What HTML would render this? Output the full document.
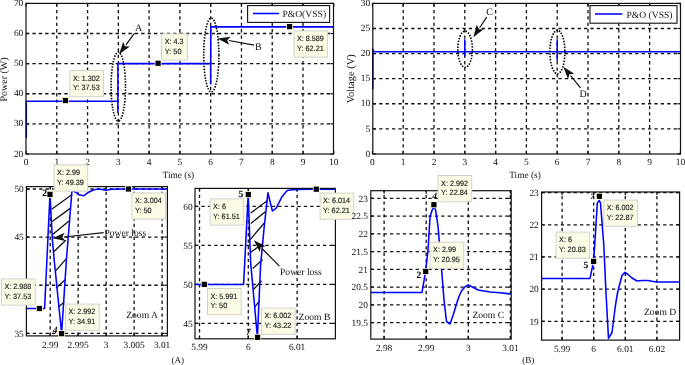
<!DOCTYPE html>
<html><head><meta charset="utf-8"><title>P&amp;O VSS</title>
<style>
html,body{margin:0;padding:0;background:#fff;width:685px;height:365px;overflow:hidden;}
svg{display:block;will-change:transform;text-rendering:geometricPrecision;}
</style></head>
<body>
<svg width="685" height="365" viewBox="0 0 685 365">
<rect width="685" height="365" fill="#fff"/>
<line x1="56.78" y1="154" x2="56.78" y2="3.4" stroke="#111" stroke-width="1.3" stroke-dasharray="3.3,3.1"/>
<line x1="87.56" y1="154" x2="87.56" y2="3.4" stroke="#111" stroke-width="1.3" stroke-dasharray="3.3,3.1"/>
<line x1="118.34" y1="154" x2="118.34" y2="3.4" stroke="#111" stroke-width="1.3" stroke-dasharray="3.3,3.1"/>
<line x1="149.12" y1="154" x2="149.12" y2="3.4" stroke="#111" stroke-width="1.3" stroke-dasharray="3.3,3.1"/>
<line x1="179.9" y1="154" x2="179.9" y2="3.4" stroke="#111" stroke-width="1.3" stroke-dasharray="3.3,3.1"/>
<line x1="210.68" y1="154" x2="210.68" y2="3.4" stroke="#111" stroke-width="1.3" stroke-dasharray="3.3,3.1"/>
<line x1="241.46" y1="154" x2="241.46" y2="3.4" stroke="#111" stroke-width="1.3" stroke-dasharray="3.3,3.1"/>
<line x1="272.24" y1="154" x2="272.24" y2="3.4" stroke="#111" stroke-width="1.3" stroke-dasharray="3.3,3.1"/>
<line x1="303.02" y1="154" x2="303.02" y2="3.4" stroke="#111" stroke-width="1.3" stroke-dasharray="3.3,3.1"/>
<line x1="26" y1="123.88" x2="333.5" y2="123.88" stroke="#111" stroke-width="1.3" stroke-dasharray="3.3,3.1"/>
<line x1="26" y1="93.76" x2="333.5" y2="93.76" stroke="#111" stroke-width="1.3" stroke-dasharray="3.3,3.1"/>
<line x1="26" y1="63.64" x2="333.5" y2="63.64" stroke="#111" stroke-width="1.3" stroke-dasharray="3.3,3.1"/>
<line x1="26" y1="33.52" x2="333.5" y2="33.52" stroke="#111" stroke-width="1.3" stroke-dasharray="3.3,3.1"/>
<line x1="26" y1="154" x2="26" y2="151" stroke="#111" stroke-width="1.2"/>
<line x1="26" y1="3.4" x2="26" y2="6.4" stroke="#111" stroke-width="1.2"/>
<line x1="56.78" y1="154" x2="56.78" y2="151" stroke="#111" stroke-width="1.2"/>
<line x1="56.78" y1="3.4" x2="56.78" y2="6.4" stroke="#111" stroke-width="1.2"/>
<line x1="87.56" y1="154" x2="87.56" y2="151" stroke="#111" stroke-width="1.2"/>
<line x1="87.56" y1="3.4" x2="87.56" y2="6.4" stroke="#111" stroke-width="1.2"/>
<line x1="118.34" y1="154" x2="118.34" y2="151" stroke="#111" stroke-width="1.2"/>
<line x1="118.34" y1="3.4" x2="118.34" y2="6.4" stroke="#111" stroke-width="1.2"/>
<line x1="149.12" y1="154" x2="149.12" y2="151" stroke="#111" stroke-width="1.2"/>
<line x1="149.12" y1="3.4" x2="149.12" y2="6.4" stroke="#111" stroke-width="1.2"/>
<line x1="179.9" y1="154" x2="179.9" y2="151" stroke="#111" stroke-width="1.2"/>
<line x1="179.9" y1="3.4" x2="179.9" y2="6.4" stroke="#111" stroke-width="1.2"/>
<line x1="210.68" y1="154" x2="210.68" y2="151" stroke="#111" stroke-width="1.2"/>
<line x1="210.68" y1="3.4" x2="210.68" y2="6.4" stroke="#111" stroke-width="1.2"/>
<line x1="241.46" y1="154" x2="241.46" y2="151" stroke="#111" stroke-width="1.2"/>
<line x1="241.46" y1="3.4" x2="241.46" y2="6.4" stroke="#111" stroke-width="1.2"/>
<line x1="272.24" y1="154" x2="272.24" y2="151" stroke="#111" stroke-width="1.2"/>
<line x1="272.24" y1="3.4" x2="272.24" y2="6.4" stroke="#111" stroke-width="1.2"/>
<line x1="303.02" y1="154" x2="303.02" y2="151" stroke="#111" stroke-width="1.2"/>
<line x1="303.02" y1="3.4" x2="303.02" y2="6.4" stroke="#111" stroke-width="1.2"/>
<line x1="333.8" y1="154" x2="333.8" y2="151" stroke="#111" stroke-width="1.2"/>
<line x1="333.8" y1="3.4" x2="333.8" y2="6.4" stroke="#111" stroke-width="1.2"/>
<line x1="26" y1="154" x2="29" y2="154" stroke="#111" stroke-width="1.2"/>
<line x1="333.5" y1="154" x2="330.5" y2="154" stroke="#111" stroke-width="1.2"/>
<line x1="26" y1="123.88" x2="29" y2="123.88" stroke="#111" stroke-width="1.2"/>
<line x1="333.5" y1="123.88" x2="330.5" y2="123.88" stroke="#111" stroke-width="1.2"/>
<line x1="26" y1="93.76" x2="29" y2="93.76" stroke="#111" stroke-width="1.2"/>
<line x1="333.5" y1="93.76" x2="330.5" y2="93.76" stroke="#111" stroke-width="1.2"/>
<line x1="26" y1="63.64" x2="29" y2="63.64" stroke="#111" stroke-width="1.2"/>
<line x1="333.5" y1="63.64" x2="330.5" y2="63.64" stroke="#111" stroke-width="1.2"/>
<line x1="26" y1="33.52" x2="29" y2="33.52" stroke="#111" stroke-width="1.2"/>
<line x1="333.5" y1="33.52" x2="330.5" y2="33.52" stroke="#111" stroke-width="1.2"/>
<line x1="26" y1="3.4" x2="29" y2="3.4" stroke="#111" stroke-width="1.2"/>
<line x1="333.5" y1="3.4" x2="330.5" y2="3.4" stroke="#111" stroke-width="1.2"/>
<polyline points="26.31,138.34 26.31,101.2 117.88,101.2 117.88,112.13 117.94,63.64 210.68,63.64 210.68,84.06 210.74,26.86 333.49,26.86" fill="none" stroke="#0000ff" stroke-width="1.55" stroke-linejoin="round" stroke-linecap="butt"/>
<rect x="26" y="3.4" width="307.5" height="150.6" fill="none" stroke="#111" stroke-width="1.2"/>
<text x="26" y="164.8" font-family="'Liberation Serif', serif" font-size="9.4" text-anchor="middle" fill="#111">0</text>
<text x="56.78" y="164.8" font-family="'Liberation Serif', serif" font-size="9.4" text-anchor="middle" fill="#111">1</text>
<text x="87.56" y="164.8" font-family="'Liberation Serif', serif" font-size="9.4" text-anchor="middle" fill="#111">2</text>
<text x="118.34" y="164.8" font-family="'Liberation Serif', serif" font-size="9.4" text-anchor="middle" fill="#111">3</text>
<text x="149.12" y="164.8" font-family="'Liberation Serif', serif" font-size="9.4" text-anchor="middle" fill="#111">4</text>
<text x="179.9" y="164.8" font-family="'Liberation Serif', serif" font-size="9.4" text-anchor="middle" fill="#111">5</text>
<text x="210.68" y="164.8" font-family="'Liberation Serif', serif" font-size="9.4" text-anchor="middle" fill="#111">6</text>
<text x="241.46" y="164.8" font-family="'Liberation Serif', serif" font-size="9.4" text-anchor="middle" fill="#111">7</text>
<text x="272.24" y="164.8" font-family="'Liberation Serif', serif" font-size="9.4" text-anchor="middle" fill="#111">8</text>
<text x="303.02" y="164.8" font-family="'Liberation Serif', serif" font-size="9.4" text-anchor="middle" fill="#111">9</text>
<text x="333.8" y="164.8" font-family="'Liberation Serif', serif" font-size="9.4" text-anchor="middle" fill="#111">10</text>
<text x="23.3" y="156.5" font-family="'Liberation Serif', serif" font-size="9.4" text-anchor="end" fill="#111">20</text>
<text x="23.3" y="126.38" font-family="'Liberation Serif', serif" font-size="9.4" text-anchor="end" fill="#111">30</text>
<text x="23.3" y="96.26" font-family="'Liberation Serif', serif" font-size="9.4" text-anchor="end" fill="#111">40</text>
<text x="23.3" y="66.14" font-family="'Liberation Serif', serif" font-size="9.4" text-anchor="end" fill="#111">50</text>
<text x="23.3" y="36.02" font-family="'Liberation Serif', serif" font-size="9.4" text-anchor="end" fill="#111">60</text>
<text x="23.3" y="5.9" font-family="'Liberation Serif', serif" font-size="9.4" text-anchor="end" fill="#111">70</text>
<text x="178.4" y="178.2" font-family="'Liberation Serif', serif" font-size="9.4" text-anchor="middle" fill="#111">Time (s)</text>
<text transform="translate(7.1,79.5) rotate(-90)" font-family="'Liberation Serif', serif" font-size="10" text-anchor="middle" fill="#111">Power (W)</text>
<rect x="247.6" y="5.6" width="82" height="16.8" fill="#fff" stroke="#111" stroke-width="1.1"/>
<line x1="253" y1="13.5" x2="279" y2="13.5" stroke="#0000ff" stroke-width="1.55"/>
<text x="282.4" y="17" font-family="'Liberation Serif', serif" font-size="9.6" text-anchor="start" fill="#111">P&amp;O(VSS)</text>
<ellipse cx="118.3" cy="86.6" rx="7.2" ry="34.5" fill="none" stroke="#000" stroke-width="1.6" stroke-dasharray="1.5,1.35"/>
<ellipse cx="211.3" cy="55" rx="7.6" ry="37" fill="none" stroke="#000" stroke-width="1.6" stroke-dasharray="1.5,1.35"/>
<line x1="134.4" y1="33.4" x2="125.91" y2="44.94" stroke="#111" stroke-width="1.2"/>
<polygon points="119.1,54.2 123.2,41.7 124.88,46.35 129.81,46.56" fill="#111"/>
<text x="138.5" y="31.3" font-family="'Liberation Serif', serif" font-size="10" text-anchor="middle" fill="#111">A</text>
<line x1="254" y1="45.2" x2="228.9" y2="40.51" stroke="#111" stroke-width="1.2"/>
<polygon points="217.6,38.4 230.64,36.67 227.18,40.19 229.13,44.73" fill="#111"/>
<text x="258.3" y="50.2" font-family="'Liberation Serif', serif" font-size="10" text-anchor="middle" fill="#111">B</text>
<rect x="62" y="97.1" width="6.8" height="6.8" fill="#fbf8d8"/>
<rect x="62.8" y="97.9" width="5.2" height="5.2" fill="#000"/>
<rect x="69.9" y="70.5" width="33.62" height="26.2" fill="#fcfce6" stroke="#d2d2cc" stroke-width="1"/>
<text x="72.9" y="80.7" font-family="'Liberation Sans', sans-serif" font-size="7.7" text-anchor="start" fill="#1a1a1a" textLength="26.82" lengthAdjust="spacingAndGlyphs" stroke="#1a1a1a" stroke-width="0.15">X: 1.302</text>
<text x="72.9" y="90.4" font-family="'Liberation Sans', sans-serif" font-size="7.7" text-anchor="start" fill="#1a1a1a" textLength="26.82" lengthAdjust="spacingAndGlyphs" stroke="#1a1a1a" stroke-width="0.15">Y: 37.53</text>
<rect x="154.7" y="59.9" width="6.8" height="6.8" fill="#fbf8d8"/>
<rect x="155.5" y="60.7" width="5.2" height="5.2" fill="#000"/>
<rect x="161.7" y="33.9" width="25.61" height="26.2" fill="#fcfce6" stroke="#d2d2cc" stroke-width="1"/>
<text x="164.7" y="44.1" font-family="'Liberation Sans', sans-serif" font-size="7.7" text-anchor="start" fill="#1a1a1a" textLength="18.81" lengthAdjust="spacingAndGlyphs" stroke="#1a1a1a" stroke-width="0.15">X: 4.3</text>
<text x="164.7" y="53.8" font-family="'Liberation Sans', sans-serif" font-size="7.7" text-anchor="start" fill="#1a1a1a" textLength="16.81" lengthAdjust="spacingAndGlyphs" stroke="#1a1a1a" stroke-width="0.15">Y: 50</text>
<rect x="286.2" y="23.2" width="6.8" height="6.8" fill="#fbf8d8"/>
<rect x="287" y="24" width="5.2" height="5.2" fill="#000"/>
<rect x="294" y="30.9" width="33.62" height="26.2" fill="#fcfce6" stroke="#d2d2cc" stroke-width="1"/>
<text x="297" y="41.1" font-family="'Liberation Sans', sans-serif" font-size="7.7" text-anchor="start" fill="#1a1a1a" textLength="26.82" lengthAdjust="spacingAndGlyphs" stroke="#1a1a1a" stroke-width="0.15">X: 8.589</text>
<text x="297" y="50.8" font-family="'Liberation Sans', sans-serif" font-size="7.7" text-anchor="start" fill="#1a1a1a" textLength="26.82" lengthAdjust="spacingAndGlyphs" stroke="#1a1a1a" stroke-width="0.15">Y: 62.21</text>
<line x1="403.2" y1="154" x2="403.2" y2="3.4" stroke="#111" stroke-width="1.3" stroke-dasharray="3.3,3.1"/>
<line x1="434" y1="154" x2="434" y2="3.4" stroke="#111" stroke-width="1.3" stroke-dasharray="3.3,3.1"/>
<line x1="464.8" y1="154" x2="464.8" y2="3.4" stroke="#111" stroke-width="1.3" stroke-dasharray="3.3,3.1"/>
<line x1="495.6" y1="154" x2="495.6" y2="3.4" stroke="#111" stroke-width="1.3" stroke-dasharray="3.3,3.1"/>
<line x1="526.4" y1="154" x2="526.4" y2="3.4" stroke="#111" stroke-width="1.3" stroke-dasharray="3.3,3.1"/>
<line x1="557.2" y1="154" x2="557.2" y2="3.4" stroke="#111" stroke-width="1.3" stroke-dasharray="3.3,3.1"/>
<line x1="588" y1="154" x2="588" y2="3.4" stroke="#111" stroke-width="1.3" stroke-dasharray="3.3,3.1"/>
<line x1="618.8" y1="154" x2="618.8" y2="3.4" stroke="#111" stroke-width="1.3" stroke-dasharray="3.3,3.1"/>
<line x1="649.6" y1="154" x2="649.6" y2="3.4" stroke="#111" stroke-width="1.3" stroke-dasharray="3.3,3.1"/>
<line x1="372.8" y1="128.82" x2="680.5" y2="128.82" stroke="#111" stroke-width="1.3" stroke-dasharray="3.3,3.1"/>
<line x1="372.8" y1="103.73" x2="680.5" y2="103.73" stroke="#111" stroke-width="1.3" stroke-dasharray="3.3,3.1"/>
<line x1="372.8" y1="78.65" x2="680.5" y2="78.65" stroke="#111" stroke-width="1.3" stroke-dasharray="3.3,3.1"/>
<line x1="372.8" y1="53.57" x2="680.5" y2="53.57" stroke="#111" stroke-width="1.3" stroke-dasharray="3.3,3.1"/>
<line x1="372.8" y1="28.48" x2="680.5" y2="28.48" stroke="#111" stroke-width="1.3" stroke-dasharray="3.3,3.1"/>
<line x1="372.4" y1="154" x2="372.4" y2="151" stroke="#111" stroke-width="1.2"/>
<line x1="372.4" y1="3.4" x2="372.4" y2="6.4" stroke="#111" stroke-width="1.2"/>
<line x1="403.2" y1="154" x2="403.2" y2="151" stroke="#111" stroke-width="1.2"/>
<line x1="403.2" y1="3.4" x2="403.2" y2="6.4" stroke="#111" stroke-width="1.2"/>
<line x1="434" y1="154" x2="434" y2="151" stroke="#111" stroke-width="1.2"/>
<line x1="434" y1="3.4" x2="434" y2="6.4" stroke="#111" stroke-width="1.2"/>
<line x1="464.8" y1="154" x2="464.8" y2="151" stroke="#111" stroke-width="1.2"/>
<line x1="464.8" y1="3.4" x2="464.8" y2="6.4" stroke="#111" stroke-width="1.2"/>
<line x1="495.6" y1="154" x2="495.6" y2="151" stroke="#111" stroke-width="1.2"/>
<line x1="495.6" y1="3.4" x2="495.6" y2="6.4" stroke="#111" stroke-width="1.2"/>
<line x1="526.4" y1="154" x2="526.4" y2="151" stroke="#111" stroke-width="1.2"/>
<line x1="526.4" y1="3.4" x2="526.4" y2="6.4" stroke="#111" stroke-width="1.2"/>
<line x1="557.2" y1="154" x2="557.2" y2="151" stroke="#111" stroke-width="1.2"/>
<line x1="557.2" y1="3.4" x2="557.2" y2="6.4" stroke="#111" stroke-width="1.2"/>
<line x1="588" y1="154" x2="588" y2="151" stroke="#111" stroke-width="1.2"/>
<line x1="588" y1="3.4" x2="588" y2="6.4" stroke="#111" stroke-width="1.2"/>
<line x1="618.8" y1="154" x2="618.8" y2="151" stroke="#111" stroke-width="1.2"/>
<line x1="618.8" y1="3.4" x2="618.8" y2="6.4" stroke="#111" stroke-width="1.2"/>
<line x1="649.6" y1="154" x2="649.6" y2="151" stroke="#111" stroke-width="1.2"/>
<line x1="649.6" y1="3.4" x2="649.6" y2="6.4" stroke="#111" stroke-width="1.2"/>
<line x1="680.4" y1="154" x2="680.4" y2="151" stroke="#111" stroke-width="1.2"/>
<line x1="680.4" y1="3.4" x2="680.4" y2="6.4" stroke="#111" stroke-width="1.2"/>
<line x1="372.8" y1="153.9" x2="375.8" y2="153.9" stroke="#111" stroke-width="1.2"/>
<line x1="680.5" y1="153.9" x2="677.5" y2="153.9" stroke="#111" stroke-width="1.2"/>
<line x1="372.8" y1="128.82" x2="375.8" y2="128.82" stroke="#111" stroke-width="1.2"/>
<line x1="680.5" y1="128.82" x2="677.5" y2="128.82" stroke="#111" stroke-width="1.2"/>
<line x1="372.8" y1="103.73" x2="375.8" y2="103.73" stroke="#111" stroke-width="1.2"/>
<line x1="680.5" y1="103.73" x2="677.5" y2="103.73" stroke="#111" stroke-width="1.2"/>
<line x1="372.8" y1="78.65" x2="375.8" y2="78.65" stroke="#111" stroke-width="1.2"/>
<line x1="680.5" y1="78.65" x2="677.5" y2="78.65" stroke="#111" stroke-width="1.2"/>
<line x1="372.8" y1="53.57" x2="375.8" y2="53.57" stroke="#111" stroke-width="1.2"/>
<line x1="680.5" y1="53.57" x2="677.5" y2="53.57" stroke="#111" stroke-width="1.2"/>
<line x1="372.8" y1="28.48" x2="375.8" y2="28.48" stroke="#111" stroke-width="1.2"/>
<line x1="680.5" y1="28.48" x2="677.5" y2="28.48" stroke="#111" stroke-width="1.2"/>
<line x1="372.8" y1="3.4" x2="375.8" y2="3.4" stroke="#111" stroke-width="1.2"/>
<line x1="680.5" y1="3.4" x2="677.5" y2="3.4" stroke="#111" stroke-width="1.2"/>
<polyline points="372.8,89.19 372.8,49.05 373.94,51.81 680.4,51.81" fill="none" stroke="#0000ff" stroke-width="1.55" stroke-linejoin="round" stroke-linecap="butt"/>
<polyline points="464.8,39.32 464.8,56.33" fill="none" stroke="#0000ff" stroke-width="1.55" stroke-linejoin="round" stroke-linecap="butt"/>
<polyline points="557.2,39.17 557.2,60.84" fill="none" stroke="#0000ff" stroke-width="1.55" stroke-linejoin="round" stroke-linecap="butt"/>
<rect x="372.8" y="3.4" width="307.7" height="150.6" fill="none" stroke="#111" stroke-width="1.2"/>
<text x="372.4" y="164.8" font-family="'Liberation Serif', serif" font-size="9.4" text-anchor="middle" fill="#111">0</text>
<text x="403.2" y="164.8" font-family="'Liberation Serif', serif" font-size="9.4" text-anchor="middle" fill="#111">1</text>
<text x="434" y="164.8" font-family="'Liberation Serif', serif" font-size="9.4" text-anchor="middle" fill="#111">2</text>
<text x="464.8" y="164.8" font-family="'Liberation Serif', serif" font-size="9.4" text-anchor="middle" fill="#111">3</text>
<text x="495.6" y="164.8" font-family="'Liberation Serif', serif" font-size="9.4" text-anchor="middle" fill="#111">4</text>
<text x="526.4" y="164.8" font-family="'Liberation Serif', serif" font-size="9.4" text-anchor="middle" fill="#111">5</text>
<text x="557.2" y="164.8" font-family="'Liberation Serif', serif" font-size="9.4" text-anchor="middle" fill="#111">6</text>
<text x="588" y="164.8" font-family="'Liberation Serif', serif" font-size="9.4" text-anchor="middle" fill="#111">7</text>
<text x="618.8" y="164.8" font-family="'Liberation Serif', serif" font-size="9.4" text-anchor="middle" fill="#111">8</text>
<text x="649.6" y="164.8" font-family="'Liberation Serif', serif" font-size="9.4" text-anchor="middle" fill="#111">9</text>
<text x="680.4" y="164.8" font-family="'Liberation Serif', serif" font-size="9.4" text-anchor="middle" fill="#111">10</text>
<text x="370.2" y="156.6" font-family="'Liberation Serif', serif" font-size="9.4" text-anchor="end" fill="#111">0</text>
<text x="370.2" y="131.51" font-family="'Liberation Serif', serif" font-size="9.4" text-anchor="end" fill="#111">5</text>
<text x="370.2" y="106.43" font-family="'Liberation Serif', serif" font-size="9.4" text-anchor="end" fill="#111">10</text>
<text x="370.2" y="81.35" font-family="'Liberation Serif', serif" font-size="9.4" text-anchor="end" fill="#111">15</text>
<text x="370.2" y="56.26" font-family="'Liberation Serif', serif" font-size="9.4" text-anchor="end" fill="#111">20</text>
<text x="370.2" y="31.18" font-family="'Liberation Serif', serif" font-size="9.4" text-anchor="end" fill="#111">25</text>
<text x="370.2" y="6.1" font-family="'Liberation Serif', serif" font-size="9.4" text-anchor="end" fill="#111">30</text>
<text x="525" y="177.6" font-family="'Liberation Serif', serif" font-size="9.4" text-anchor="middle" fill="#111">Time (s)</text>
<text transform="translate(354.1,78.7) rotate(-90)" font-family="'Liberation Serif', serif" font-size="10.5" text-anchor="middle" fill="#111">Voltage (V)</text>
<rect x="590" y="5.6" width="87" height="17.6" fill="#fff" stroke="#111" stroke-width="1.1"/>
<line x1="595" y1="14" x2="622.4" y2="14" stroke="#0000ff" stroke-width="1.55"/>
<text x="626.4" y="17.6" font-family="'Liberation Serif', serif" font-size="9.6" text-anchor="start" fill="#111">P&amp;O (VSS)</text>
<ellipse cx="465.1" cy="49.2" rx="7.3" ry="18.1" fill="none" stroke="#000" stroke-width="1.6" stroke-dasharray="1.5,1.35"/>
<ellipse cx="557.4" cy="52" rx="7.5" ry="21.7" fill="none" stroke="#000" stroke-width="1.6" stroke-dasharray="1.5,1.35"/>
<line x1="486.7" y1="17.1" x2="479.66" y2="27.72" stroke="#111" stroke-width="1.2"/>
<polygon points="473.3,37.3 476.79,24.62 478.69,29.18 483.63,29.15" fill="#111"/>
<text x="489.7" y="14.6" font-family="'Liberation Serif', serif" font-size="10" text-anchor="middle" fill="#111">C</text>
<line x1="580.5" y1="87.8" x2="570.59" y2="75.7" stroke="#111" stroke-width="1.2"/>
<polygon points="563.3,66.8 574.39,73.87 569.48,74.34 568.05,79.07" fill="#111"/>
<text x="583.2" y="97.4" font-family="'Liberation Serif', serif" font-size="10" text-anchor="middle" fill="#111">D</text>
<line x1="50.2" y1="335.9" x2="50.2" y2="186.6" stroke="#111" stroke-width="1.3" stroke-dasharray="3.3,3.1"/>
<line x1="78.17" y1="335.9" x2="78.17" y2="186.6" stroke="#111" stroke-width="1.3" stroke-dasharray="3.3,3.1"/>
<line x1="106.15" y1="335.9" x2="106.15" y2="186.6" stroke="#111" stroke-width="1.3" stroke-dasharray="3.3,3.1"/>
<line x1="134.12" y1="335.9" x2="134.12" y2="186.6" stroke="#111" stroke-width="1.3" stroke-dasharray="3.3,3.1"/>
<line x1="162.1" y1="335.9" x2="162.1" y2="186.6" stroke="#111" stroke-width="1.3" stroke-dasharray="3.3,3.1"/>
<line x1="26.4" y1="333.4" x2="167.4" y2="333.4" stroke="#111" stroke-width="1.3" stroke-dasharray="3.3,3.1"/>
<line x1="26.4" y1="285.27" x2="167.4" y2="285.27" stroke="#111" stroke-width="1.3" stroke-dasharray="3.3,3.1"/>
<line x1="26.4" y1="237.13" x2="167.4" y2="237.13" stroke="#111" stroke-width="1.3" stroke-dasharray="3.3,3.1"/>
<line x1="26.4" y1="189" x2="167.4" y2="189" stroke="#111" stroke-width="1.3" stroke-dasharray="3.3,3.1"/>
<line x1="50.2" y1="335.9" x2="50.2" y2="332.9" stroke="#111" stroke-width="1.2"/>
<line x1="50.2" y1="186.6" x2="50.2" y2="189.6" stroke="#111" stroke-width="1.2"/>
<line x1="78.17" y1="335.9" x2="78.17" y2="332.9" stroke="#111" stroke-width="1.2"/>
<line x1="78.17" y1="186.6" x2="78.17" y2="189.6" stroke="#111" stroke-width="1.2"/>
<line x1="106.15" y1="335.9" x2="106.15" y2="332.9" stroke="#111" stroke-width="1.2"/>
<line x1="106.15" y1="186.6" x2="106.15" y2="189.6" stroke="#111" stroke-width="1.2"/>
<line x1="134.12" y1="335.9" x2="134.12" y2="332.9" stroke="#111" stroke-width="1.2"/>
<line x1="134.12" y1="186.6" x2="134.12" y2="189.6" stroke="#111" stroke-width="1.2"/>
<line x1="162.1" y1="335.9" x2="162.1" y2="332.9" stroke="#111" stroke-width="1.2"/>
<line x1="162.1" y1="186.6" x2="162.1" y2="189.6" stroke="#111" stroke-width="1.2"/>
<line x1="26.4" y1="333.4" x2="29.4" y2="333.4" stroke="#111" stroke-width="1.2"/>
<line x1="167.4" y1="333.4" x2="164.4" y2="333.4" stroke="#111" stroke-width="1.2"/>
<line x1="26.4" y1="285.27" x2="29.4" y2="285.27" stroke="#111" stroke-width="1.2"/>
<line x1="167.4" y1="285.27" x2="164.4" y2="285.27" stroke="#111" stroke-width="1.2"/>
<line x1="26.4" y1="237.13" x2="29.4" y2="237.13" stroke="#111" stroke-width="1.2"/>
<line x1="167.4" y1="237.13" x2="164.4" y2="237.13" stroke="#111" stroke-width="1.2"/>
<line x1="26.4" y1="189" x2="29.4" y2="189" stroke="#111" stroke-width="1.2"/>
<line x1="167.4" y1="189" x2="164.4" y2="189" stroke="#111" stroke-width="1.2"/>
<line x1="51.6" y1="209.2" x2="72.1" y2="194.5" stroke="#111" stroke-width="1.3"/>
<line x1="52.2" y1="221.5" x2="70.2" y2="208.4" stroke="#111" stroke-width="1.3"/>
<line x1="52.6" y1="234.5" x2="69" y2="221" stroke="#111" stroke-width="1.3"/>
<line x1="54" y1="251.5" x2="65.8" y2="240.2" stroke="#111" stroke-width="1.3"/>
<line x1="55.2" y1="271.4" x2="66.4" y2="258.6" stroke="#111" stroke-width="1.3"/>
<line x1="56" y1="287.9" x2="65.5" y2="279.6" stroke="#111" stroke-width="1.3"/>
<line x1="58.2" y1="307" x2="64.2" y2="302.3" stroke="#111" stroke-width="1.3"/>
<polyline points="26.4,308.5 44.6,308.5 50,194.4 52.4,240 54.4,262 61.6,333.4 66.4,260 71.8,192.5 72.6,190.5 75.3,192 78.9,194.8 83.5,195.8 87.6,192.8 93.7,189.7 98.8,189 106.5,190.2 111.1,189.2 124,189 167.4,189" fill="none" stroke="#0000ff" stroke-width="1.55" stroke-linejoin="round" stroke-linecap="butt"/>
<rect x="26.4" y="186.6" width="141" height="149.3" fill="none" stroke="#111" stroke-width="1.2"/>
<text x="50.2" y="347.8" font-family="'Liberation Serif', serif" font-size="9.4" text-anchor="middle" fill="#111">2.99</text>
<text x="78.17" y="347.8" font-family="'Liberation Serif', serif" font-size="9.4" text-anchor="middle" fill="#111">2.995</text>
<text x="106.15" y="347.8" font-family="'Liberation Serif', serif" font-size="9.4" text-anchor="middle" fill="#111">3</text>
<text x="134.12" y="347.8" font-family="'Liberation Serif', serif" font-size="9.4" text-anchor="middle" fill="#111">3.005</text>
<text x="162.1" y="347.8" font-family="'Liberation Serif', serif" font-size="9.4" text-anchor="middle" fill="#111">3.01</text>
<text x="23.8" y="336.6" font-family="'Liberation Serif', serif" font-size="9.4" text-anchor="end" fill="#111">35</text>
<text x="23.8" y="288.46" font-family="'Liberation Serif', serif" font-size="9.4" text-anchor="end" fill="#111">40</text>
<text x="23.8" y="240.33" font-family="'Liberation Serif', serif" font-size="9.4" text-anchor="end" fill="#111">45</text>
<text x="23.8" y="192.2" font-family="'Liberation Serif', serif" font-size="9.4" text-anchor="end" fill="#111">50</text>
<line x1="103.6" y1="232.6" x2="64.03" y2="237.02" stroke="#111" stroke-width="1.2"/>
<polygon points="52.6,238.3 64.57,232.84 62.29,237.22 65.48,240.99" fill="#111"/>
<text x="104.4" y="236.2" font-family="'Liberation Serif', serif" font-size="9.6" text-anchor="start" fill="#111">Power loss</text>
<text x="126.2" y="318.2" font-family="'Liberation Serif', serif" font-size="9.6" text-anchor="start" fill="#111">Zoom A</text>
<rect x="46.6" y="191" width="6.8" height="6.8" fill="#fbf8d8"/>
<rect x="47.4" y="191.8" width="5.2" height="5.2" fill="#000"/>
<rect x="58.2" y="330.2" width="6.8" height="6.8" fill="#fbf8d8"/>
<rect x="59" y="331" width="5.2" height="5.2" fill="#000"/>
<rect x="36" y="305.1" width="6.8" height="6.8" fill="#fbf8d8"/>
<rect x="36.8" y="305.9" width="5.2" height="5.2" fill="#000"/>
<rect x="125" y="185.6" width="6.8" height="6.8" fill="#fbf8d8"/>
<rect x="125.8" y="186.4" width="5.2" height="5.2" fill="#000"/>
<text x="44.6" y="195.6" font-family="'Liberation Serif', serif" font-size="9.6" text-anchor="middle" fill="#111" font-weight="bold" stroke="#111" stroke-width="0.12">2</text>
<text x="55.2" y="333.2" font-family="'Liberation Serif', serif" font-size="9.6" text-anchor="middle" fill="#111" font-weight="bold" font-style="italic">4</text>
<rect x="54.1" y="164.9" width="33.62" height="26.2" fill="#fcfce6" stroke="#d2d2cc" stroke-width="1"/>
<text x="57.1" y="175.1" font-family="'Liberation Sans', sans-serif" font-size="7.7" text-anchor="start" fill="#1a1a1a" textLength="22.82" lengthAdjust="spacingAndGlyphs" stroke="#1a1a1a" stroke-width="0.15">X: 2.99</text>
<text x="57.1" y="184.8" font-family="'Liberation Sans', sans-serif" font-size="7.7" text-anchor="start" fill="#1a1a1a" textLength="26.82" lengthAdjust="spacingAndGlyphs" stroke="#1a1a1a" stroke-width="0.15">Y: 49.39</text>
<rect x="1.5" y="278.9" width="33.62" height="26.2" fill="#fcfce6" stroke="#d2d2cc" stroke-width="1"/>
<text x="4.5" y="289.1" font-family="'Liberation Sans', sans-serif" font-size="7.7" text-anchor="start" fill="#1a1a1a" textLength="26.82" lengthAdjust="spacingAndGlyphs" stroke="#1a1a1a" stroke-width="0.15">X: 2.988</text>
<text x="4.5" y="298.8" font-family="'Liberation Sans', sans-serif" font-size="7.7" text-anchor="start" fill="#1a1a1a" textLength="26.82" lengthAdjust="spacingAndGlyphs" stroke="#1a1a1a" stroke-width="0.15">Y: 37.53</text>
<rect x="65.5" y="304.1" width="33.62" height="26.2" fill="#fcfce6" stroke="#d2d2cc" stroke-width="1"/>
<text x="68.5" y="314.3" font-family="'Liberation Sans', sans-serif" font-size="7.7" text-anchor="start" fill="#1a1a1a" textLength="26.82" lengthAdjust="spacingAndGlyphs" stroke="#1a1a1a" stroke-width="0.15">X: 2.992</text>
<text x="68.5" y="324" font-family="'Liberation Sans', sans-serif" font-size="7.7" text-anchor="start" fill="#1a1a1a" textLength="26.82" lengthAdjust="spacingAndGlyphs" stroke="#1a1a1a" stroke-width="0.15">Y: 34.91</text>
<rect x="131.9" y="192.9" width="33.62" height="26.2" fill="#fcfce6" stroke="#d2d2cc" stroke-width="1"/>
<text x="134.9" y="203.1" font-family="'Liberation Sans', sans-serif" font-size="7.7" text-anchor="start" fill="#1a1a1a" textLength="26.82" lengthAdjust="spacingAndGlyphs" stroke="#1a1a1a" stroke-width="0.15">X: 3.004</text>
<text x="134.9" y="212.8" font-family="'Liberation Sans', sans-serif" font-size="7.7" text-anchor="start" fill="#1a1a1a" textLength="16.81" lengthAdjust="spacingAndGlyphs" stroke="#1a1a1a" stroke-width="0.15">Y: 50</text>
<line x1="199.5" y1="338.8" x2="199.5" y2="188.4" stroke="#111" stroke-width="1.3" stroke-dasharray="3.3,3.1"/>
<line x1="248.3" y1="338.8" x2="248.3" y2="188.4" stroke="#111" stroke-width="1.3" stroke-dasharray="3.3,3.1"/>
<line x1="297.1" y1="338.8" x2="297.1" y2="188.4" stroke="#111" stroke-width="1.3" stroke-dasharray="3.3,3.1"/>
<line x1="195" y1="323.4" x2="335.4" y2="323.4" stroke="#111" stroke-width="1.3" stroke-dasharray="3.3,3.1"/>
<line x1="195" y1="284.4" x2="335.4" y2="284.4" stroke="#111" stroke-width="1.3" stroke-dasharray="3.3,3.1"/>
<line x1="195" y1="245.4" x2="335.4" y2="245.4" stroke="#111" stroke-width="1.3" stroke-dasharray="3.3,3.1"/>
<line x1="195" y1="206.4" x2="335.4" y2="206.4" stroke="#111" stroke-width="1.3" stroke-dasharray="3.3,3.1"/>
<line x1="199.5" y1="338.8" x2="199.5" y2="335.8" stroke="#111" stroke-width="1.2"/>
<line x1="199.5" y1="188.4" x2="199.5" y2="191.4" stroke="#111" stroke-width="1.2"/>
<line x1="248.3" y1="338.8" x2="248.3" y2="335.8" stroke="#111" stroke-width="1.2"/>
<line x1="248.3" y1="188.4" x2="248.3" y2="191.4" stroke="#111" stroke-width="1.2"/>
<line x1="297.1" y1="338.8" x2="297.1" y2="335.8" stroke="#111" stroke-width="1.2"/>
<line x1="297.1" y1="188.4" x2="297.1" y2="191.4" stroke="#111" stroke-width="1.2"/>
<line x1="195" y1="323.4" x2="198" y2="323.4" stroke="#111" stroke-width="1.2"/>
<line x1="335.4" y1="323.4" x2="332.4" y2="323.4" stroke="#111" stroke-width="1.2"/>
<line x1="195" y1="284.4" x2="198" y2="284.4" stroke="#111" stroke-width="1.2"/>
<line x1="335.4" y1="284.4" x2="332.4" y2="284.4" stroke="#111" stroke-width="1.2"/>
<line x1="195" y1="245.4" x2="198" y2="245.4" stroke="#111" stroke-width="1.2"/>
<line x1="335.4" y1="245.4" x2="332.4" y2="245.4" stroke="#111" stroke-width="1.2"/>
<line x1="195" y1="206.4" x2="198" y2="206.4" stroke="#111" stroke-width="1.2"/>
<line x1="335.4" y1="206.4" x2="332.4" y2="206.4" stroke="#111" stroke-width="1.2"/>
<line x1="250.7" y1="213" x2="267.6" y2="200.5" stroke="#111" stroke-width="1.3"/>
<line x1="250.7" y1="223.5" x2="265.7" y2="211.5" stroke="#111" stroke-width="1.3"/>
<line x1="250" y1="239.8" x2="264.3" y2="223" stroke="#111" stroke-width="1.3"/>
<line x1="250.7" y1="252.3" x2="262.8" y2="243.5" stroke="#111" stroke-width="1.3"/>
<line x1="252.8" y1="268.5" x2="262.6" y2="259.4" stroke="#111" stroke-width="1.3"/>
<line x1="253.5" y1="289.5" x2="261.6" y2="280.8" stroke="#111" stroke-width="1.3"/>
<line x1="254.7" y1="307.2" x2="259.7" y2="300.6" stroke="#111" stroke-width="1.3"/>
<polyline points="195,284.4 243.6,284.4 248.2,194.6 250.6,262 257.4,337.2 260.6,265 264.2,227 267.9,192.8 272.4,211 276.2,208.2 282,196.7 287.2,190.6 292,189.8 298,189.4 310,189.2 335.4,189.2" fill="none" stroke="#0000ff" stroke-width="1.55" stroke-linejoin="round" stroke-linecap="butt"/>
<rect x="195" y="188.4" width="140.4" height="150.4" fill="none" stroke="#111" stroke-width="1.2"/>
<text x="199.5" y="350.2" font-family="'Liberation Serif', serif" font-size="9.4" text-anchor="middle" fill="#111">5.99</text>
<text x="248.3" y="350.2" font-family="'Liberation Serif', serif" font-size="9.4" text-anchor="middle" fill="#111">6</text>
<text x="297.1" y="350.2" font-family="'Liberation Serif', serif" font-size="9.4" text-anchor="middle" fill="#111">6.01</text>
<text x="192.6" y="326.6" font-family="'Liberation Serif', serif" font-size="9.4" text-anchor="end" fill="#111">45</text>
<text x="192.6" y="287.6" font-family="'Liberation Serif', serif" font-size="9.4" text-anchor="end" fill="#111">50</text>
<text x="192.6" y="248.6" font-family="'Liberation Serif', serif" font-size="9.4" text-anchor="end" fill="#111">55</text>
<text x="192.6" y="209.6" font-family="'Liberation Serif', serif" font-size="9.4" text-anchor="end" fill="#111">60</text>
<line x1="279.4" y1="266.2" x2="261.97" y2="248.49" stroke="#111" stroke-width="1.2"/>
<polygon points="253.9,240.3 265.59,246.33 260.74,247.25 259.75,252.08" fill="#111"/>
<text x="280" y="275.4" font-family="'Liberation Serif', serif" font-size="9.6" text-anchor="start" fill="#111">Power loss</text>
<text x="298.6" y="319.8" font-family="'Liberation Serif', serif" font-size="9.6" text-anchor="start" fill="#111">Zoom B</text>
<rect x="244.9" y="191.2" width="6.8" height="6.8" fill="#fbf8d8"/>
<rect x="245.7" y="192" width="5.2" height="5.2" fill="#000"/>
<rect x="254.2" y="333.9" width="6.8" height="6.8" fill="#fbf8d8"/>
<rect x="255" y="334.7" width="5.2" height="5.2" fill="#000"/>
<rect x="200.9" y="281" width="6.8" height="6.8" fill="#fbf8d8"/>
<rect x="201.7" y="281.8" width="5.2" height="5.2" fill="#000"/>
<rect x="312.9" y="185.8" width="6.8" height="6.8" fill="#fbf8d8"/>
<rect x="313.7" y="186.6" width="5.2" height="5.2" fill="#000"/>
<text x="241" y="197.2" font-family="'Liberation Serif', serif" font-size="9.6" text-anchor="middle" fill="#111" font-weight="bold" stroke="#111" stroke-width="0.12">5</text>
<text x="248.3" y="335.4" font-family="'Liberation Serif', serif" font-size="9.6" text-anchor="middle" fill="#111" font-weight="bold" font-style="italic">7</text>
<rect x="210.1" y="198.9" width="33.62" height="26.2" fill="#fcfce6" stroke="#d2d2cc" stroke-width="1"/>
<text x="213.1" y="209.1" font-family="'Liberation Sans', sans-serif" font-size="7.7" text-anchor="start" fill="#1a1a1a" textLength="12.81" lengthAdjust="spacingAndGlyphs" stroke="#1a1a1a" stroke-width="0.15">X: 6</text>
<text x="213.1" y="218.8" font-family="'Liberation Sans', sans-serif" font-size="7.7" text-anchor="start" fill="#1a1a1a" textLength="26.82" lengthAdjust="spacingAndGlyphs" stroke="#1a1a1a" stroke-width="0.15">Y: 61.51</text>
<rect x="207.5" y="288.5" width="33.62" height="26.2" fill="#fcfce6" stroke="#d2d2cc" stroke-width="1"/>
<text x="210.5" y="298.7" font-family="'Liberation Sans', sans-serif" font-size="7.7" text-anchor="start" fill="#1a1a1a" textLength="26.82" lengthAdjust="spacingAndGlyphs" stroke="#1a1a1a" stroke-width="0.15">X: 5.991</text>
<text x="210.5" y="308.4" font-family="'Liberation Sans', sans-serif" font-size="7.7" text-anchor="start" fill="#1a1a1a" textLength="16.81" lengthAdjust="spacingAndGlyphs" stroke="#1a1a1a" stroke-width="0.15">Y: 50</text>
<rect x="261.5" y="308.1" width="33.62" height="26.2" fill="#fcfce6" stroke="#d2d2cc" stroke-width="1"/>
<text x="264.5" y="318.3" font-family="'Liberation Sans', sans-serif" font-size="7.7" text-anchor="start" fill="#1a1a1a" textLength="26.82" lengthAdjust="spacingAndGlyphs" stroke="#1a1a1a" stroke-width="0.15">X: 6.002</text>
<text x="264.5" y="328" font-family="'Liberation Sans', sans-serif" font-size="7.7" text-anchor="start" fill="#1a1a1a" textLength="26.82" lengthAdjust="spacingAndGlyphs" stroke="#1a1a1a" stroke-width="0.15">Y: 43.22</text>
<rect x="320.1" y="193.1" width="33.62" height="26.2" fill="#fcfce6" stroke="#d2d2cc" stroke-width="1"/>
<text x="323.1" y="203.3" font-family="'Liberation Sans', sans-serif" font-size="7.7" text-anchor="start" fill="#1a1a1a" textLength="26.82" lengthAdjust="spacingAndGlyphs" stroke="#1a1a1a" stroke-width="0.15">X: 6.014</text>
<text x="323.1" y="213" font-family="'Liberation Sans', sans-serif" font-size="7.7" text-anchor="start" fill="#1a1a1a" textLength="26.82" lengthAdjust="spacingAndGlyphs" stroke="#1a1a1a" stroke-width="0.15">Y: 62.21</text>
<line x1="384.1" y1="339.1" x2="384.1" y2="190.7" stroke="#111" stroke-width="1.3" stroke-dasharray="3.3,3.1"/>
<line x1="426.2" y1="339.1" x2="426.2" y2="190.7" stroke="#111" stroke-width="1.3" stroke-dasharray="3.3,3.1"/>
<line x1="468.3" y1="339.1" x2="468.3" y2="190.7" stroke="#111" stroke-width="1.3" stroke-dasharray="3.3,3.1"/>
<line x1="510.4" y1="339.1" x2="510.4" y2="190.7" stroke="#111" stroke-width="1.3" stroke-dasharray="3.3,3.1"/>
<line x1="370.8" y1="322.6" x2="511.2" y2="322.6" stroke="#111" stroke-width="1.3" stroke-dasharray="3.3,3.1"/>
<line x1="370.8" y1="304.84" x2="511.2" y2="304.84" stroke="#111" stroke-width="1.3" stroke-dasharray="3.3,3.1"/>
<line x1="370.8" y1="287.09" x2="511.2" y2="287.09" stroke="#111" stroke-width="1.3" stroke-dasharray="3.3,3.1"/>
<line x1="370.8" y1="269.33" x2="511.2" y2="269.33" stroke="#111" stroke-width="1.3" stroke-dasharray="3.3,3.1"/>
<line x1="370.8" y1="251.57" x2="511.2" y2="251.57" stroke="#111" stroke-width="1.3" stroke-dasharray="3.3,3.1"/>
<line x1="370.8" y1="233.81" x2="511.2" y2="233.81" stroke="#111" stroke-width="1.3" stroke-dasharray="3.3,3.1"/>
<line x1="370.8" y1="216.06" x2="511.2" y2="216.06" stroke="#111" stroke-width="1.3" stroke-dasharray="3.3,3.1"/>
<line x1="370.8" y1="198.3" x2="511.2" y2="198.3" stroke="#111" stroke-width="1.3" stroke-dasharray="3.3,3.1"/>
<line x1="384.1" y1="339.1" x2="384.1" y2="336.1" stroke="#111" stroke-width="1.2"/>
<line x1="384.1" y1="190.7" x2="384.1" y2="193.7" stroke="#111" stroke-width="1.2"/>
<line x1="426.2" y1="339.1" x2="426.2" y2="336.1" stroke="#111" stroke-width="1.2"/>
<line x1="426.2" y1="190.7" x2="426.2" y2="193.7" stroke="#111" stroke-width="1.2"/>
<line x1="468.3" y1="339.1" x2="468.3" y2="336.1" stroke="#111" stroke-width="1.2"/>
<line x1="468.3" y1="190.7" x2="468.3" y2="193.7" stroke="#111" stroke-width="1.2"/>
<line x1="510.4" y1="339.1" x2="510.4" y2="336.1" stroke="#111" stroke-width="1.2"/>
<line x1="510.4" y1="190.7" x2="510.4" y2="193.7" stroke="#111" stroke-width="1.2"/>
<line x1="370.8" y1="322.6" x2="373.8" y2="322.6" stroke="#111" stroke-width="1.2"/>
<line x1="511.2" y1="322.6" x2="508.2" y2="322.6" stroke="#111" stroke-width="1.2"/>
<line x1="370.8" y1="304.84" x2="373.8" y2="304.84" stroke="#111" stroke-width="1.2"/>
<line x1="511.2" y1="304.84" x2="508.2" y2="304.84" stroke="#111" stroke-width="1.2"/>
<line x1="370.8" y1="287.09" x2="373.8" y2="287.09" stroke="#111" stroke-width="1.2"/>
<line x1="511.2" y1="287.09" x2="508.2" y2="287.09" stroke="#111" stroke-width="1.2"/>
<line x1="370.8" y1="269.33" x2="373.8" y2="269.33" stroke="#111" stroke-width="1.2"/>
<line x1="511.2" y1="269.33" x2="508.2" y2="269.33" stroke="#111" stroke-width="1.2"/>
<line x1="370.8" y1="251.57" x2="373.8" y2="251.57" stroke="#111" stroke-width="1.2"/>
<line x1="511.2" y1="251.57" x2="508.2" y2="251.57" stroke="#111" stroke-width="1.2"/>
<line x1="370.8" y1="233.81" x2="373.8" y2="233.81" stroke="#111" stroke-width="1.2"/>
<line x1="511.2" y1="233.81" x2="508.2" y2="233.81" stroke="#111" stroke-width="1.2"/>
<line x1="370.8" y1="216.06" x2="373.8" y2="216.06" stroke="#111" stroke-width="1.2"/>
<line x1="511.2" y1="216.06" x2="508.2" y2="216.06" stroke="#111" stroke-width="1.2"/>
<line x1="370.8" y1="198.3" x2="373.8" y2="198.3" stroke="#111" stroke-width="1.2"/>
<line x1="511.2" y1="198.3" x2="508.2" y2="198.3" stroke="#111" stroke-width="1.2"/>
<polyline points="370.8,292.4 422,292.4 425.6,271.4 428,250 430.1,216.2 432.3,209.7 433.9,207.2 435.5,209.7 438,226 441,262 444,300 446.5,321.5 450,324 453.5,314 456.5,304 459,296.5 461.5,291 464.5,287.2 468.2,285 472,286.8 478,290 490,292 500,292.8 511.2,294" fill="none" stroke="#0000ff" stroke-width="1.55" stroke-linejoin="round" stroke-linecap="butt"/>
<rect x="370.8" y="190.7" width="140.4" height="148.4" fill="none" stroke="#111" stroke-width="1.2"/>
<text x="384.1" y="351.4" font-family="'Liberation Serif', serif" font-size="9.4" text-anchor="middle" fill="#111">2.98</text>
<text x="426.2" y="351.4" font-family="'Liberation Serif', serif" font-size="9.4" text-anchor="middle" fill="#111">2.99</text>
<text x="468.3" y="351.4" font-family="'Liberation Serif', serif" font-size="9.4" text-anchor="middle" fill="#111">3</text>
<text x="510.4" y="351.4" font-family="'Liberation Serif', serif" font-size="9.4" text-anchor="middle" fill="#111">3.01</text>
<text x="367.9" y="325.8" font-family="'Liberation Serif', serif" font-size="9.4" text-anchor="end" fill="#111">19.5</text>
<text x="367.9" y="308.04" font-family="'Liberation Serif', serif" font-size="9.4" text-anchor="end" fill="#111">20</text>
<text x="367.9" y="290.28" font-family="'Liberation Serif', serif" font-size="9.4" text-anchor="end" fill="#111">20.5</text>
<text x="367.9" y="272.52" font-family="'Liberation Serif', serif" font-size="9.4" text-anchor="end" fill="#111">21</text>
<text x="367.9" y="254.77" font-family="'Liberation Serif', serif" font-size="9.4" text-anchor="end" fill="#111">21.5</text>
<text x="367.9" y="237.01" font-family="'Liberation Serif', serif" font-size="9.4" text-anchor="end" fill="#111">22</text>
<text x="367.9" y="219.25" font-family="'Liberation Serif', serif" font-size="9.4" text-anchor="end" fill="#111">22.5</text>
<text x="367.9" y="201.5" font-family="'Liberation Serif', serif" font-size="9.4" text-anchor="end" fill="#111">23</text>
<text x="472.4" y="318.4" font-family="'Liberation Serif', serif" font-size="9.6" text-anchor="start" fill="#111">Zoom C</text>
<rect x="422.3" y="268" width="6.8" height="6.8" fill="#fbf8d8"/>
<rect x="423.1" y="268.8" width="5.2" height="5.2" fill="#000"/>
<rect x="430.5" y="201.3" width="6.8" height="6.8" fill="#fbf8d8"/>
<rect x="431.3" y="202.1" width="5.2" height="5.2" fill="#000"/>
<text x="419" y="278.4" font-family="'Liberation Serif', serif" font-size="9.6" text-anchor="middle" fill="#111" font-weight="bold" stroke="#111" stroke-width="0.12">2</text>
<text x="434.6" y="199.4" font-family="'Liberation Serif', serif" font-size="9.6" text-anchor="middle" fill="#111" font-weight="bold" font-style="italic">4</text>
<rect x="438.1" y="175.5" width="33.62" height="26.2" fill="#fcfce6" stroke="#d2d2cc" stroke-width="1"/>
<text x="441.1" y="185.7" font-family="'Liberation Sans', sans-serif" font-size="7.7" text-anchor="start" fill="#1a1a1a" textLength="26.82" lengthAdjust="spacingAndGlyphs" stroke="#1a1a1a" stroke-width="0.15">X: 2.992</text>
<text x="441.1" y="195.4" font-family="'Liberation Sans', sans-serif" font-size="7.7" text-anchor="start" fill="#1a1a1a" textLength="26.82" lengthAdjust="spacingAndGlyphs" stroke="#1a1a1a" stroke-width="0.15">Y: 22.84</text>
<rect x="430.1" y="242.1" width="33.62" height="26.2" fill="#fcfce6" stroke="#d2d2cc" stroke-width="1"/>
<text x="433.1" y="252.3" font-family="'Liberation Sans', sans-serif" font-size="7.7" text-anchor="start" fill="#1a1a1a" textLength="22.82" lengthAdjust="spacingAndGlyphs" stroke="#1a1a1a" stroke-width="0.15">X: 2.99</text>
<text x="433.1" y="262" font-family="'Liberation Sans', sans-serif" font-size="7.7" text-anchor="start" fill="#1a1a1a" textLength="26.82" lengthAdjust="spacingAndGlyphs" stroke="#1a1a1a" stroke-width="0.15">Y: 20.95</text>
<line x1="562.1" y1="340.1" x2="562.1" y2="192" stroke="#111" stroke-width="1.3" stroke-dasharray="3.3,3.1"/>
<line x1="593.7" y1="340.1" x2="593.7" y2="192" stroke="#111" stroke-width="1.3" stroke-dasharray="3.3,3.1"/>
<line x1="625.3" y1="340.1" x2="625.3" y2="192" stroke="#111" stroke-width="1.3" stroke-dasharray="3.3,3.1"/>
<line x1="656.9" y1="340.1" x2="656.9" y2="192" stroke="#111" stroke-width="1.3" stroke-dasharray="3.3,3.1"/>
<line x1="541.6" y1="321.3" x2="679.6" y2="321.3" stroke="#111" stroke-width="1.3" stroke-dasharray="3.3,3.1"/>
<line x1="541.6" y1="289.12" x2="679.6" y2="289.12" stroke="#111" stroke-width="1.3" stroke-dasharray="3.3,3.1"/>
<line x1="541.6" y1="256.95" x2="679.6" y2="256.95" stroke="#111" stroke-width="1.3" stroke-dasharray="3.3,3.1"/>
<line x1="541.6" y1="224.78" x2="679.6" y2="224.78" stroke="#111" stroke-width="1.3" stroke-dasharray="3.3,3.1"/>
<line x1="541.6" y1="192.6" x2="679.6" y2="192.6" stroke="#111" stroke-width="1.3" stroke-dasharray="3.3,3.1"/>
<line x1="562.1" y1="340.1" x2="562.1" y2="337.1" stroke="#111" stroke-width="1.2"/>
<line x1="562.1" y1="192" x2="562.1" y2="195" stroke="#111" stroke-width="1.2"/>
<line x1="593.7" y1="340.1" x2="593.7" y2="337.1" stroke="#111" stroke-width="1.2"/>
<line x1="593.7" y1="192" x2="593.7" y2="195" stroke="#111" stroke-width="1.2"/>
<line x1="625.3" y1="340.1" x2="625.3" y2="337.1" stroke="#111" stroke-width="1.2"/>
<line x1="625.3" y1="192" x2="625.3" y2="195" stroke="#111" stroke-width="1.2"/>
<line x1="656.9" y1="340.1" x2="656.9" y2="337.1" stroke="#111" stroke-width="1.2"/>
<line x1="656.9" y1="192" x2="656.9" y2="195" stroke="#111" stroke-width="1.2"/>
<line x1="541.6" y1="321.3" x2="544.6" y2="321.3" stroke="#111" stroke-width="1.2"/>
<line x1="679.6" y1="321.3" x2="676.6" y2="321.3" stroke="#111" stroke-width="1.2"/>
<line x1="541.6" y1="289.12" x2="544.6" y2="289.12" stroke="#111" stroke-width="1.2"/>
<line x1="679.6" y1="289.12" x2="676.6" y2="289.12" stroke="#111" stroke-width="1.2"/>
<line x1="541.6" y1="256.95" x2="544.6" y2="256.95" stroke="#111" stroke-width="1.2"/>
<line x1="679.6" y1="256.95" x2="676.6" y2="256.95" stroke="#111" stroke-width="1.2"/>
<line x1="541.6" y1="224.78" x2="544.6" y2="224.78" stroke="#111" stroke-width="1.2"/>
<line x1="679.6" y1="224.78" x2="676.6" y2="224.78" stroke="#111" stroke-width="1.2"/>
<line x1="541.6" y1="192.6" x2="544.6" y2="192.6" stroke="#111" stroke-width="1.2"/>
<line x1="679.6" y1="192.6" x2="676.6" y2="192.6" stroke="#111" stroke-width="1.2"/>
<polyline points="541.6,278.4 590,278.4 593.6,261.4 596,225 597.3,203 599.2,200.4 600.5,203 603.8,245 606,293 608.5,338.4 612,332.5 615.5,305 617.5,293 619.5,285 622,275.5 625,272.4 628,274.5 632,278 637,281 642,280.4 648,280.4 652,281.2 657,282 679.6,282" fill="none" stroke="#0000ff" stroke-width="1.55" stroke-linejoin="round" stroke-linecap="butt"/>
<rect x="541.6" y="192" width="138" height="148.1" fill="none" stroke="#111" stroke-width="1.2"/>
<text x="562.1" y="351.6" font-family="'Liberation Serif', serif" font-size="9.4" text-anchor="middle" fill="#111">5.99</text>
<text x="593.7" y="351.6" font-family="'Liberation Serif', serif" font-size="9.4" text-anchor="middle" fill="#111">6</text>
<text x="625.3" y="351.6" font-family="'Liberation Serif', serif" font-size="9.4" text-anchor="middle" fill="#111">6.01</text>
<text x="656.9" y="351.6" font-family="'Liberation Serif', serif" font-size="9.4" text-anchor="middle" fill="#111">6.02</text>
<text x="538.8" y="324.5" font-family="'Liberation Serif', serif" font-size="9.4" text-anchor="end" fill="#111">19</text>
<text x="538.8" y="292.32" font-family="'Liberation Serif', serif" font-size="9.4" text-anchor="end" fill="#111">20</text>
<text x="538.8" y="260.15" font-family="'Liberation Serif', serif" font-size="9.4" text-anchor="end" fill="#111">21</text>
<text x="538.8" y="227.97" font-family="'Liberation Serif', serif" font-size="9.4" text-anchor="end" fill="#111">22</text>
<text x="538.8" y="195.8" font-family="'Liberation Serif', serif" font-size="9.4" text-anchor="end" fill="#111">23</text>
<text x="644" y="314.8" font-family="'Liberation Serif', serif" font-size="9.6" text-anchor="start" fill="#111">Zoom D</text>
<rect x="590.2" y="258" width="6.8" height="6.8" fill="#fbf8d8"/>
<rect x="591" y="258.8" width="5.2" height="5.2" fill="#000"/>
<rect x="596" y="192.9" width="6.8" height="6.8" fill="#fbf8d8"/>
<rect x="596.8" y="193.7" width="5.2" height="5.2" fill="#000"/>
<text x="586" y="267.8" font-family="'Liberation Serif', serif" font-size="9.6" text-anchor="middle" fill="#111" font-weight="bold" stroke="#111" stroke-width="0.12">5</text>
<text x="592.3" y="198.9" font-family="'Liberation Serif', serif" font-size="8" text-anchor="middle" fill="#111" font-weight="bold" font-style="italic">7</text>
<rect x="603.8" y="200.1" width="33.62" height="26.2" fill="#fcfce6" stroke="#d2d2cc" stroke-width="1"/>
<text x="606.8" y="210.3" font-family="'Liberation Sans', sans-serif" font-size="7.7" text-anchor="start" fill="#1a1a1a" textLength="26.82" lengthAdjust="spacingAndGlyphs" stroke="#1a1a1a" stroke-width="0.15">X: 6.002</text>
<text x="606.8" y="220" font-family="'Liberation Sans', sans-serif" font-size="7.7" text-anchor="start" fill="#1a1a1a" textLength="26.82" lengthAdjust="spacingAndGlyphs" stroke="#1a1a1a" stroke-width="0.15">Y: 22.87</text>
<rect x="556.1" y="232.1" width="33.62" height="26.2" fill="#fcfce6" stroke="#d2d2cc" stroke-width="1"/>
<text x="559.1" y="242.3" font-family="'Liberation Sans', sans-serif" font-size="7.7" text-anchor="start" fill="#1a1a1a" textLength="12.81" lengthAdjust="spacingAndGlyphs" stroke="#1a1a1a" stroke-width="0.15">X: 6</text>
<text x="559.1" y="252" font-family="'Liberation Sans', sans-serif" font-size="7.7" text-anchor="start" fill="#1a1a1a" textLength="26.82" lengthAdjust="spacingAndGlyphs" stroke="#1a1a1a" stroke-width="0.15">Y: 20.83</text>
<text x="177.8" y="362.6" font-family="'Liberation Serif', serif" font-size="9.2" text-anchor="middle" fill="#111">(A)</text>
<text x="528.3" y="362.6" font-family="'Liberation Serif', serif" font-size="9.2" text-anchor="middle" fill="#111">(B)</text>
</svg>
</body></html>
